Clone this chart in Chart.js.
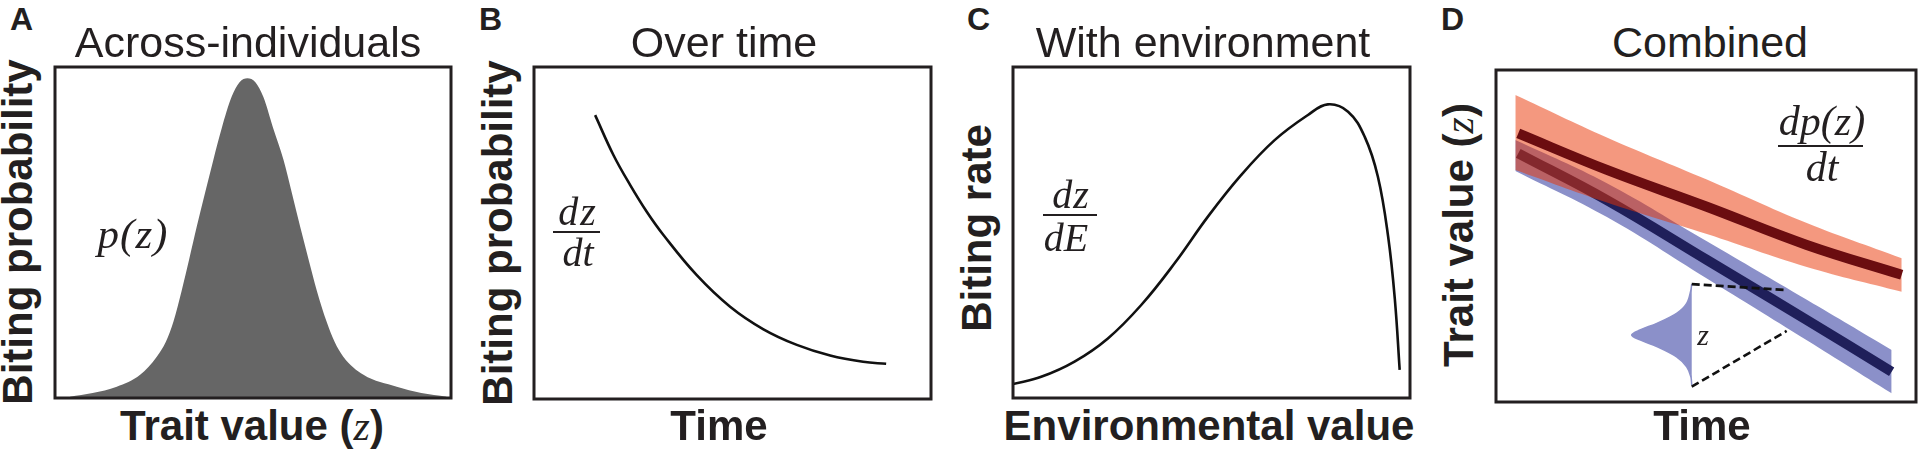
<!DOCTYPE html>
<html>
<head>
<meta charset="utf-8">
<script src="https://cdn.jsdelivr.net/npm/chart.js@4/dist/chart.umd.min.js"></script>
<style>
  html, body { margin: 0; padding: 0; background: #fff; }
  body { width: 1920px; height: 451px; position: relative; overflow: hidden; }
  .panel { position: absolute; }
  .panel canvas { display: block; }
  .t { position: absolute; white-space: nowrap; line-height: 1; color: #231f20; z-index: 5; }
  .sans { font-family: "Liberation Sans", Arial, Helvetica, sans-serif; }
  .bold { font-weight: bold; }
  .m { font-family: "Liberation Serif", "Times New Roman", serif; font-style: italic; font-weight: normal; }
  .c { transform: translateX(-50%); }
  .rot { transform: translate(-50%, -50%) rotate(-90deg); }
  .bar { position: absolute; height: 2px; background: #231f20; z-index: 5; }
</style>
</head>
<body>

<!-- panel letters -->
<div class="t sans bold" style="font-size:32px; left:10px; top:3px;">A</div>
<div class="t sans bold" style="font-size:32px; left:479px; top:3px;">B</div>
<div class="t sans bold" style="font-size:32px; left:967px; top:3px;">C</div>
<div class="t sans bold" style="font-size:32px; left:1441px; top:3px;">D</div>

<!-- titles -->
<div class="t sans c" style="font-size:43px; left:248px; top:21px;">Across-individuals</div>
<div class="t sans c" style="font-size:43px; left:724px; top:21px;">Over time</div>
<div class="t sans c" style="font-size:43px; left:1203px; top:21px;">With environment</div>
<div class="t sans c" style="font-size:43px; left:1710px; top:21px;">Combined</div>

<!-- x axis labels -->
<div class="t sans bold c" style="font-size:42px; left:252px; top:405px;">Trait value (<span class="m">z</span>)</div>
<div class="t sans bold c" style="font-size:42px; left:719px; top:405px;">Time</div>
<div class="t sans bold c" style="font-size:42px; left:1209px; top:405px;">Environmental value</div>
<div class="t sans bold c" style="font-size:42px; left:1702px; top:405px;">Time</div>

<!-- y axis labels -->
<div class="t sans bold rot" style="font-size:42px; left:18px; top:232px;">Biting probability</div>
<div class="t sans bold rot" style="font-size:42px; left:498px; top:233px;">Biting probability</div>
<div class="t sans bold rot" style="font-size:42px; left:977px; top:228px;">Biting rate</div>
<div class="t sans bold rot" style="font-size:42px; left:1459px; top:235px;">Trait value (<span class="m">z</span>)</div>

<!-- math annotations -->
<div class="t m c" style="font-size:43px; left:133px; top:212px; letter-spacing:1px;">p(z)</div>

<div class="t m c" style="font-size:40px; left:578px; top:192px; letter-spacing:2px;">dz</div>
<div class="bar" style="left:553px; top:231px; width:47px;"></div>
<div class="t m c" style="font-size:40px; left:578px; top:233px;">dt</div>

<div class="t m c" style="font-size:40px; left:1071px; top:175px; letter-spacing:1px;">dz</div>
<div class="bar" style="left:1043px; top:214px; width:54px;"></div>
<div class="t m c" style="font-size:40px; left:1066px; top:218px;">dE</div>

<div class="t m c" style="font-size:42px; left:1822px; top:100px;">dp(z)</div>
<div class="bar" style="left:1778px; top:145px; width:85px;"></div>
<div class="t m c" style="font-size:42px; left:1822px; top:146px;">dt</div>

<div class="t m c" style="font-size:30px; left:1703px; top:320px;">z</div>

<div class="panel" id="pA"><canvas id="cA"></canvas></div>
<div class="panel" id="pB"><canvas id="cB"></canvas></div>
<div class="panel" id="pC"><canvas id="cC"></canvas></div>
<div class="panel" id="pD"><canvas id="cD"></canvas></div>

<script>
// ---------------- DATA (axes 0..100) ----------------
// Panel A: distribution of biting probability across trait values
const traitValues = [3.8, 9.5, 15.6, 21.5, 25.7, 28.0, 29.9, 32.0, 33.9, 35.8, 37.9, 40.0, 42.1, 44.6, 46.6, 48.6, 50.6, 52.6, 55.1, 57.7, 59.8, 61.9, 64.0, 66.1, 68.6, 70.6, 72.8, 77.9, 86.3, 92.5, 98.9];
const bitingProbability = [0.4, 1.5, 3.4, 7.0, 12.5, 17.0, 23.0, 32.5, 42.0, 51.8, 62.0, 72.0, 81.5, 91.0, 95.4, 96.6, 95.4, 91.0, 81.5, 72.0, 62.0, 51.8, 42.0, 32.5, 23.0, 17.0, 12.5, 7.0, 3.4, 1.5, 0.4];

// Panel B: biting probability over time
const timeB = [15.4, 20.0, 24.2, 28.4, 32.6, 41.0, 49.4, 57.8, 66.2, 74.6, 82.9, 88.7];
const bitingOverTime = [85.5, 73.5, 64.5, 56.4, 49.4, 37.3, 27.8, 21.0, 16.3, 13.1, 11.2, 10.6];

// Panel C: biting rate against environmental value
const environmentValues = [0, 7.1, 15.5, 23.9, 32.3, 40.7, 49.1, 57.5, 65.9, 74.3, 79.3, 84.4, 88.6, 91.9, 94.5, 96.2, 97.4];
const bitingRate = [4.2, 6.4, 11.0, 18.0, 28.1, 40.7, 54.8, 67.4, 77.9, 85.5, 88.7, 86.5, 78.9, 66.9, 48.7, 29.6, 8.5];

// Panel D: combined trait trajectories
const timeRed = [5.3, 26.4, 50.2, 74.0, 96.6];
const meanRed = [80.9, 69.9, 58.8, 47.3, 38.3];
const timeRedBand = [4.6, 26.4, 50.2, 74.0, 96.6];
const redUpper = [92.5, 79.7, 67.0, 53.9, 43.3];
const redLower = [69.9, 60.1, 50.6, 40.7, 33.2];

const timeBlue = [5.3, 26.4, 50.2, 74.0, 94.2];
const meanBlue = [74.9, 60.8, 42.8, 24.7, 9.1];
const timeBlueBand = [4.6, 26.4, 50.2, 74.0, 94.2];
const blueUpper = [78.9, 65.9, 48.4, 30.8, 15.7];
const blueLower = [69.6, 55.7, 37.2, 18.6, 2.6];

// inset distribution of z (outline, drawn sideways)
const insetDensity = [46.6, 46.4, 45.4, 43.0, 38.3, 34.3, 32.3, 34.3, 38.3, 43.0, 45.4, 46.4, 46.6];
const insetTrait = [35.5, 33.7, 29.7, 26.7, 23.7, 21.7, 20.2, 18.7, 16.7, 13.6, 10.6, 7.6, 5.1];

// dashed guide lines
const dashTopX = [46.6, 69.2];
const dashTopY = [35.5, 33.7];
const dashBottomX = [46.6, 69.2];
const dashBottomY = [4.6, 21.4];

// ---------------- helpers ----------------
const pts = (xs, ys) => xs.map((x, i) => ({ x: x, y: ys[i] }));
const PAD = 4;

const framePlugin = {
  id: 'frame',
  afterDatasetsDraw(chart) {
    const a = chart.chartArea, ctx = chart.ctx;
    ctx.save();
    ctx.strokeStyle = '#231f20';
    ctx.lineWidth = 3;
    ctx.strokeRect(a.left, a.top, a.right - a.left, a.bottom - a.top);
    ctx.restore();
  }
};

function makePanel(divId, canvasId, area, datasets) {
  const w = area.r - area.l + 2 * PAD, h = area.b - area.t + 2 * PAD;
  const div = document.getElementById(divId);
  div.style.left = (area.l - PAD) + 'px';
  div.style.top = (area.t - PAD) + 'px';
  const cv = document.getElementById(canvasId);
  cv.width = w; cv.height = h;
  cv.style.width = w + 'px'; cv.style.height = h + 'px';
  return new Chart(cv.getContext('2d'), {
    type: 'line',
    data: { datasets: datasets },
    options: {
      responsive: false,
      animation: false,
      devicePixelRatio: 1,
      events: [],
      layout: { padding: PAD },
      plugins: { legend: { display: false }, tooltip: { enabled: false }, title: { display: false } },
      elements: { point: { radius: 0 } },
      scales: {
        x: { type: 'linear', min: 0, max: 100, display: false },
        y: { type: 'linear', min: 0, max: 100, display: false }
      }
    },
    plugins: [framePlugin]
  });
}

// Panel A
makePanel('pA', 'cA', { l: 55, t: 67, r: 451, b: 398 }, [{
  data: pts(traitValues, bitingProbability),
  backgroundColor: '#666666',
  borderWidth: 0,
  fill: 'origin',
  cubicInterpolationMode: 'monotone'
}]);

// Panel B
makePanel('pB', 'cB', { l: 534, t: 67, r: 931, b: 399 }, [{
  data: pts(timeB, bitingOverTime),
  borderColor: '#111111',
  borderWidth: 2.6,
  fill: false,
  tension: 0.4
}]);

// Panel C
makePanel('pC', 'cC', { l: 1013, t: 67, r: 1410, b: 398 }, [{
  data: pts(environmentValues, bitingRate),
  borderColor: '#111111',
  borderWidth: 2.6,
  fill: false,
  tension: 0.4
}]);

// Panel D
const BLUE = 'rgb(139,144,201)';
const ORANGE = 'rgba(233,50,0,0.5)';
makePanel('pD', 'cD', { l: 1496, t: 70, r: 1916, b: 402 }, [
  // 0 dashed top
  { data: pts(dashTopX, dashTopY), borderColor: '#111', borderWidth: 2.6, borderDash: [8, 4], fill: false, tension: 0, order: 0 },
  // 1 dashed bottom
  { data: pts(dashBottomX, dashBottomY), borderColor: '#111', borderWidth: 2.6, borderDash: [8, 4], fill: false, tension: 0, order: 0 },
  // 2 inset distribution
  { data: pts(insetDensity, insetTrait), borderColor: BLUE, backgroundColor: BLUE, borderWidth: 1.5, fill: 'shape', tension: 0.35, order: 1 },
  // 3 dark red mean line
  { data: pts(timeRed, meanRed), borderColor: '#6b0d10', borderWidth: 10, fill: false, tension: 0.4, order: 2 },
  // 4 orange band upper edge (fills to 5)
  { data: pts(timeRedBand, redUpper), borderWidth: 0, backgroundColor: ORANGE, fill: 5, tension: 0.4, order: 3 },
  // 5 orange band lower edge
  { data: pts(timeRedBand, redLower), borderWidth: 0, fill: false, tension: 0.4, order: 4 },
  // 6 navy mean line
  { data: pts(timeBlue, meanBlue), borderColor: '#1f1f5a', borderWidth: 10, fill: false, tension: 0.4, order: 5 },
  // 7 blue band upper edge (fills to 8)
  { data: pts(timeBlueBand, blueUpper), borderWidth: 0, backgroundColor: BLUE, fill: 8, tension: 0.4, order: 6 },
  // 8 blue band lower edge
  { data: pts(timeBlueBand, blueLower), borderWidth: 0, fill: false, tension: 0.4, order: 7 }
]);
</script>
</body>
</html>
